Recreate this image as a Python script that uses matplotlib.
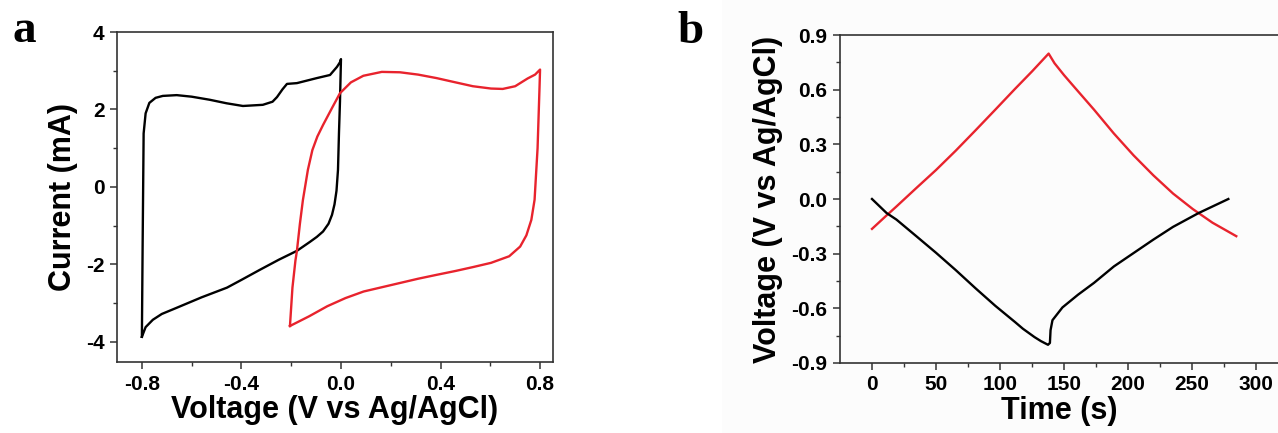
import matplotlib
matplotlib.use("Agg")
import matplotlib.pyplot as plt
from matplotlib.patches import Rectangle

plt.rcParams['font.family'] = ['Liberation Sans', 'DejaVu Sans']
plt.rcParams['font.weight'] = 'bold'

# --- panel a: cyclic voltammetry (V vs Ag/AgCl, mA) ---
black_cv_v = [-0.8, -0.797, -0.793, -0.785, -0.77, -0.745, -0.716, -0.66, -0.6, -0.527,
              -0.46, -0.394, -0.314, -0.275, -0.257, -0.235, -0.217, -0.177, -0.097,
              -0.044, -0.016, -0.004, 0.0,
              -0.004, -0.008, -0.012, -0.018, -0.026, -0.036, -0.05, -0.072, -0.097, -0.125,
              -0.177, -0.25, -0.326, -0.4, -0.458, -0.56, -0.66, -0.72, -0.756,
              -0.785, -0.8]
black_cv_i = [-3.87, -1.5, 1.38, 1.9, 2.17, 2.3, 2.35, 2.37, 2.33, 2.25,
              2.16, 2.09, 2.12, 2.2, 2.32, 2.52, 2.66, 2.68, 2.81,
              2.89, 3.1, 3.22, 3.3,
              2.2, 1.4, 0.44, -0.1, -0.45, -0.72, -0.95, -1.15, -1.29, -1.42,
              -1.65, -1.88, -2.14, -2.4, -2.6, -2.85, -3.12, -3.28, -3.43,
              -3.62, -3.87]

red_cv_v = [-0.205, -0.195, -0.183, -0.177, -0.165, -0.153, -0.133, -0.115, -0.095, -0.072,
            -0.035, -0.004, 0.04, 0.09, 0.164, 0.237, 0.31, 0.384, 0.46, 0.53,
            0.603, 0.65, 0.7, 0.75, 0.78, 0.8,
            0.798, 0.795, 0.79, 0.778, 0.765, 0.745, 0.72, 0.676, 0.603, 0.53,
            0.46, 0.384, 0.31, 0.237, 0.164, 0.091, 0.018, -0.055, -0.128, -0.205]
red_cv_i = [-3.59, -2.6, -1.9, -1.65, -0.95, -0.34, 0.44, 0.95, 1.3, 1.6,
            2.05, 2.42, 2.7, 2.87, 2.97, 2.96, 2.9, 2.81, 2.7, 2.6,
            2.54, 2.53, 2.6, 2.8, 2.9, 3.03,
            2.6, 2.0, 1.0, -0.33, -0.85, -1.25, -1.54, -1.79, -1.96, -2.07,
            -2.17, -2.27, -2.37, -2.48, -2.59, -2.7, -2.87, -3.08, -3.34, -3.59]

# --- panel b: galvanostatic charge/discharge (s, V vs Ag/AgCl) ---
red_gcd_t = [0, 11.4, 19.1, 34.6, 50, 65.4, 80.9, 96.3, 111.7, 125, 138,
             142.6, 150, 158, 173.5, 188.9, 204.3, 219.8, 235.2, 250.6, 266, 284.6]
red_gcd_v = [-0.164, -0.09, -0.041, 0.06, 0.159, 0.265, 0.377, 0.49, 0.604, 0.7, 0.798,
             0.745, 0.68, 0.615, 0.49, 0.36, 0.24, 0.13, 0.03, -0.055, -0.13, -0.204]

black_gcd_t = [0, 11.4, 19.1, 34.6, 50, 65.4, 80.9, 96.3, 111.7, 117.9, 127, 132, 137.5,
               139, 139.5, 141, 148.8, 161, 173.5, 189, 204.3, 219.8, 235.2, 255.2, 278.4]
black_gcd_v = [0.0, -0.077, -0.113, -0.204, -0.295, -0.39, -0.49, -0.586, -0.675, -0.712,
               -0.758, -0.78, -0.8, -0.79, -0.72, -0.665, -0.595, -0.525, -0.46, -0.37,
               -0.297, -0.223, -0.153, -0.077, 0.0]

RED = '#e8232d'
SPINE = '#333333'

fig = plt.figure(figsize=(12.78, 4.33), dpi=100)
fig.patches.append(Rectangle((722 / 1278, 0), 1, 1, transform=fig.transFigure,
                             facecolor='#fcfcfc', edgecolor='none', zorder=-10))


def style_axes(ax):
    for s in ax.spines.values():
        s.set_color(SPINE)
        s.set_linewidth(1.2)
    ax.tick_params(which='major', direction='out', length=5, width=1.1,
                   color=SPINE, labelsize=15, pad=4)
    ax.tick_params(which='minor', direction='out', length=3, width=1.0, color=SPINE)
    ax.patch.set_alpha(0)


# panel a
ax1 = fig.add_axes([117 / 1278, 71 / 433, 436 / 1278, 330 / 433])
ax1.plot(black_cv_v, black_cv_i, color='black', lw=1.7)
ax1.plot(red_cv_v, red_cv_i, color=RED, lw=1.7)
ax1.set_xlim(-0.9, 0.852)
ax1.set_ylim(-4.52, 4.0)
ax1.set_xticks([-0.8, -0.4, 0.0, 0.4, 0.8])
ax1.set_xticks([-0.6, -0.2, 0.2, 0.6], minor=True)
ax1.set_yticks([-4, -2, 0, 2, 4])
ax1.set_yticks([-3, -1, 1, 3], minor=True)
ax1.set_xticklabels(['-0.8', '-0.4', '0.0', '0.4', '0.8'])
ax1.set_yticklabels(['-4', '-2', '0', '2', '4'])
style_axes(ax1)
ax1.set_xlabel('Voltage (V vs Ag/AgCl)', fontsize=22, fontweight='bold', labelpad=1)
ax1.set_ylabel('Current (mA)', fontsize=22, fontweight='bold', labelpad=6)

# panel b
ax2 = fig.add_axes([840 / 1278, 70 / 433, 438 / 1278, 328 / 433])
ax2.plot(red_gcd_t, red_gcd_v, color=RED, lw=1.7)
ax2.plot(black_gcd_t, black_gcd_v, color='black', lw=1.7)
ax2.set_xlim(-25, 317.2)
ax2.set_ylim(-0.9, 0.9)
ax2.set_xticks([0, 50, 100, 150, 200, 250, 300])
ax2.set_xticks([25, 75, 125, 175, 225, 275], minor=True)
ax2.set_yticks([-0.9, -0.6, -0.3, 0.0, 0.3, 0.6, 0.9])
ax2.set_yticks([-0.75, -0.45, -0.15, 0.15, 0.45, 0.75], minor=True)
ax2.set_yticklabels(['-0.9', '-0.6', '-0.3', '0.0', '0.3', '0.6', '0.9'])
style_axes(ax2)
ax2.spines['right'].set_visible(False)
ax2.set_xlabel('Time (s)', fontsize=22, fontweight='bold', labelpad=1)
ax2.set_ylabel('Voltage (V vs Ag/AgCl)', fontsize=22, fontweight='bold', labelpad=6)

# panel letters
fig.text(12 / 1278, 1 - 42 / 433, 'a', fontsize=34, fontweight='bold',
         family=['Liberation Serif', 'DejaVu Serif'], va='baseline', ha='left')
fig.text(677 / 1278, 1 - 43 / 433, 'b', fontsize=34, fontweight='bold',
         family=['Liberation Serif', 'DejaVu Serif'], va='baseline', ha='left')

fig.savefig('out.png', dpi=100)
